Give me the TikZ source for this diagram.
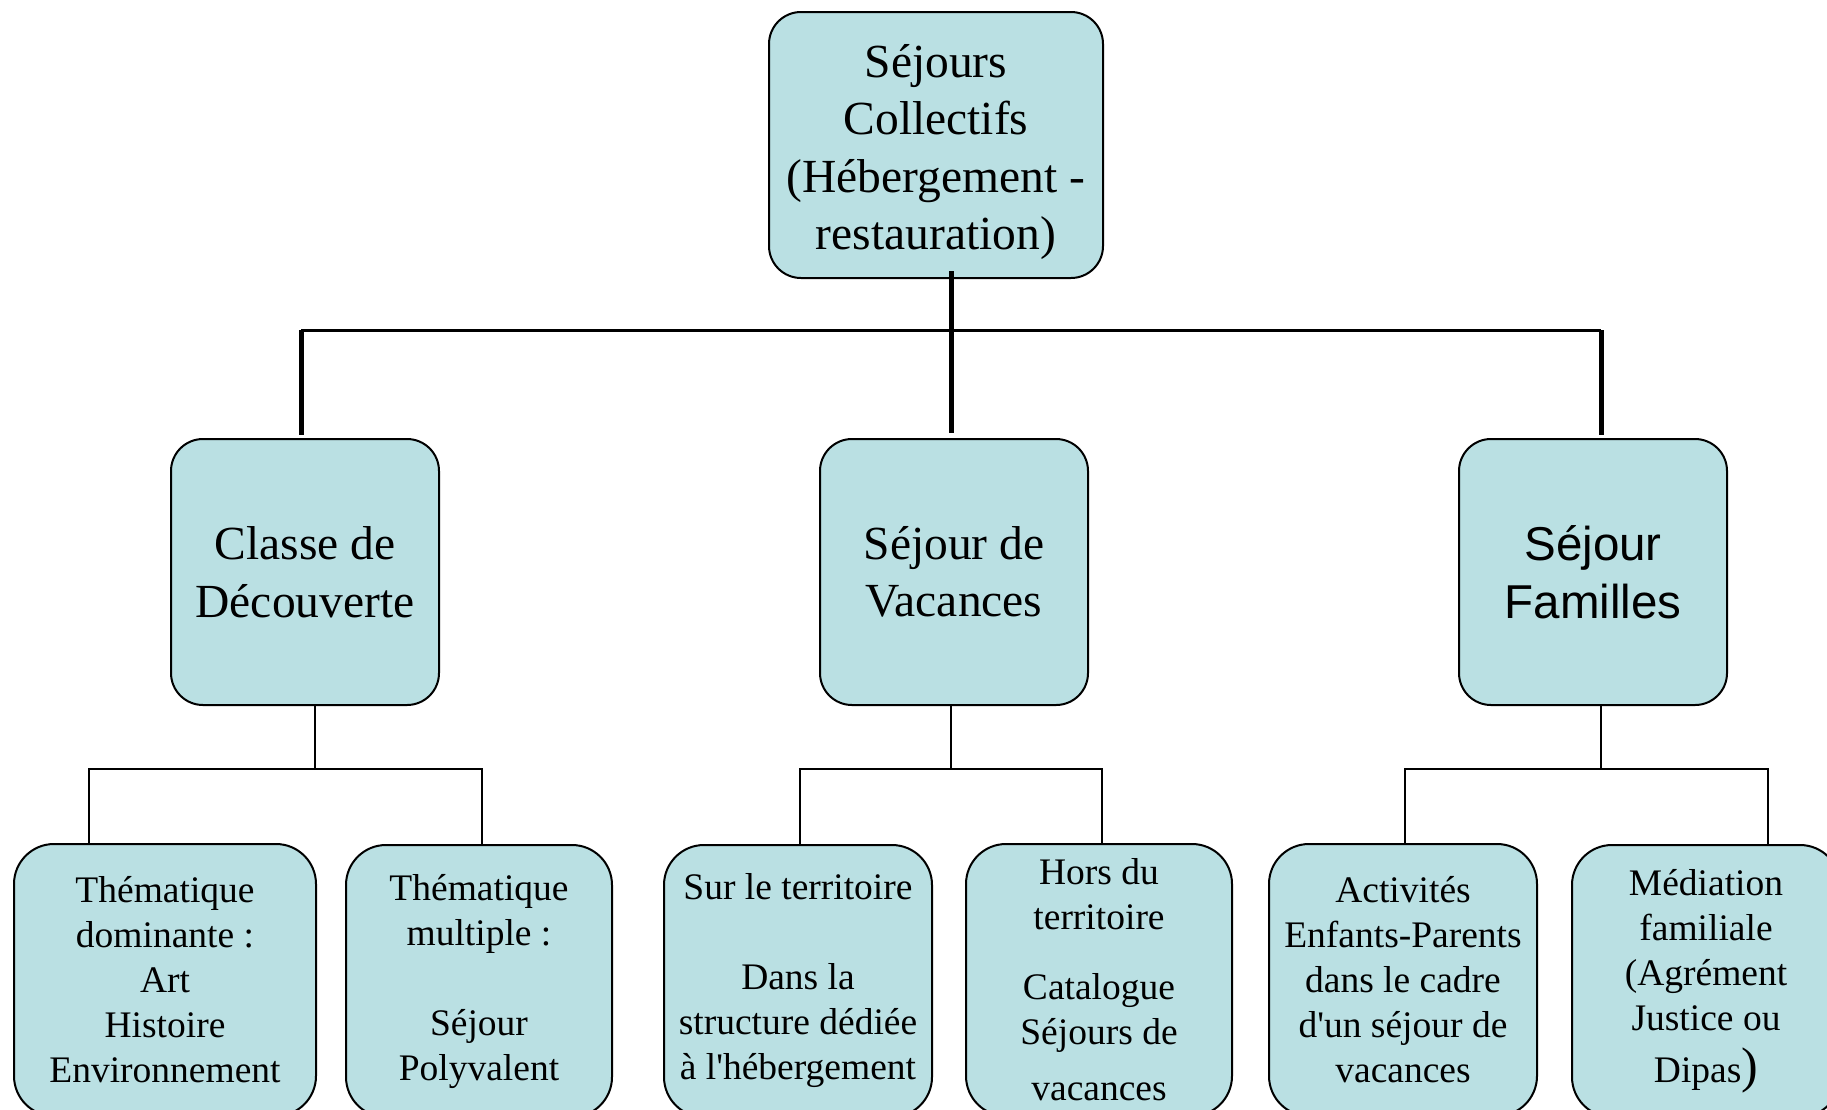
\documentclass[tikz,border=0pt]{standalone}
\usepackage{fontspec}
\usetikzlibrary{calc}
\setmainfont{Liberation Serif}
\newfontfamily\arialf{Liberation Sans}
\definecolor{boxfill}{RGB}{186,224,227}
\tikzset{
  basebox/.style={draw=black, line width=2pt, fill=boxfill, align=center, inner sep=0pt},
  bigbox/.style={basebox, rounded corners=32pt, font=\fontsize{47.5}{57.5}\selectfont},
  bigtext/.style={align=center, inner sep=0pt, font=\fontsize{47.5}{57.5}\selectfont},
  leafbox/.style={basebox, rounded corners=40pt, minimum height=272pt, font=\fontsize{37.5}{45}\selectfont},
  busline/.style={line width=3pt},
  stemline/.style={line width=5pt},
  thinline/.style={line width=2.5pt}
}
\begin{document}
\begin{tikzpicture}[x=1pt,y=-1pt]
\clip (0,0) rectangle (1827,1109);
% top
\node[bigbox, minimum width=334pt, minimum height=266pt] (top) at (936,145) {};
\node[bigtext] (toptext) at (936,152)
  {Séjours\\Collectifs\\(Hébergement -\\restauration)};
% middle
\node[bigbox, minimum width=268pt, minimum height=266pt] (classe) at (305,572)
  {Classe de\\Découverte};
\node[bigbox, minimum width=268pt, minimum height=266pt] (vac) at (954,572)
  {Séjour de\\Vacances};
\node[bigbox, minimum width=268pt, minimum height=266pt, font=\arialf\fontsize{47.5}{57.5}\selectfont] (fam) at (1593,572)
  {Séjour\\Familles};
% leaves
\node[leafbox, minimum width=302pt] (b1) at (165,980)
  {Thématique\\dominante :\\Art\\Histoire\\Environnement};
\node[leafbox, minimum width=266pt] (b2) at (479,981)
  {Thématique\\multiple :\\[45pt]Séjour\\Polyvalent};
\node[leafbox, minimum width=268pt] (b3) at (798,981)
  {Sur le territoire\\[45pt]Dans la\\structure dédiée\\à l\textquotesingle hébergement};
\node[leafbox, minimum width=266pt] (b4) at (1099,980)
  {Hors du\\territoire\\[25pt]Catalogue\\Séjours de\\[11pt]vacances};
\node[leafbox, minimum width=268pt] (b5) at (1403,980)
  {Activités\\Enfants-Parents\\dans le cadre\\d\textquotesingle un séjour de\\vacances};
\node[leafbox, minimum width=268pt] (b6) at (1706,981)
  {Médiation\\familiale\\(Agrément\\Justice ou\\[7pt]Dipas{\fontsize{50}{50}\selectfont)}};
% upper bus
\coordinate (busL) at (301,330);
\coordinate (busM) at (951,330);
\coordinate (busR) at (1601,330);
\draw[busline] (busL) -- (busR);
\draw[stemline] ($(busM |- top.south)+(0,-8)$) -- ($(busM |- vac.north)+(0,-5)$);
\draw[stemline] (busL) -- ($(busL |- classe.north)+(0,-3)$);
\draw[stemline] (busR) -- ($(busR |- fam.north)+(0,-3)$);
% classe bus
\coordinate (c1) at (315,769);
\coordinate (c1L) at (89,769);
\coordinate (c1R) at (482,769);
\draw[thinline] (c1 |- classe.south) -- (c1);
\draw[thinline] (c1L |- b1.north) -- (c1L) -- (c1R) -- (c1R |- b2.north);
% vacances bus
\coordinate (c2) at (951,769);
\coordinate (c2L) at (800,769);
\coordinate (c2R) at (1102,769);
\draw[thinline] (c2 |- vac.south) -- (c2);
\draw[thinline] (c2L |- b3.north) -- (c2L) -- (c2R) -- (c2R |- b4.north);
% familles bus
\coordinate (c3) at (1601,769);
\coordinate (c3L) at (1405,769);
\coordinate (c3R) at (1768,769);
\draw[thinline] (c3 |- fam.south) -- (c3);
\draw[thinline] (c3L |- b5.north) -- (c3L) -- (c3R) -- (c3R |- b6.north);
\end{tikzpicture}
\end{document}
